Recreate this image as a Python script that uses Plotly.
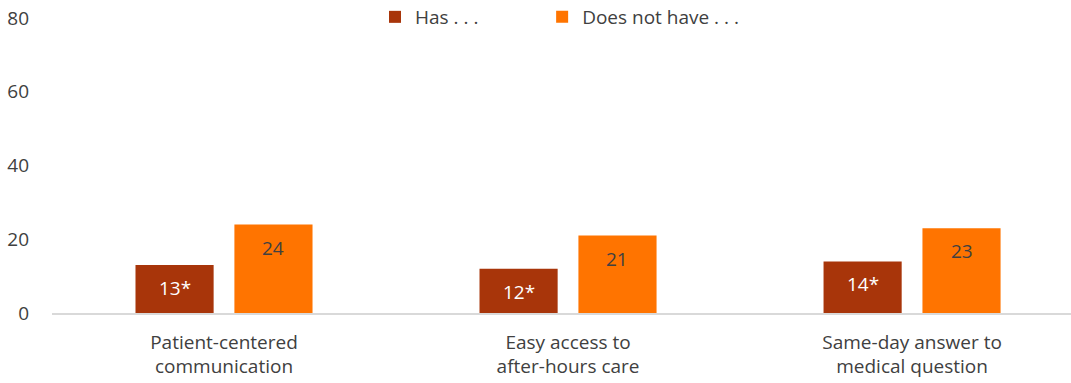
import plotly.graph_objects as go

categories = ["Patient-centered<br>communication", "Easy access to<br>after-hours care", "Same-day answer to<br>medical question"]
has_values = [13, 12, 14]
has_labels = ["13*", "12*", "14*"]
not_values = [24, 21, 23]
not_labels = ["24", "21", "23"]
y_ticks = [0, 20, 40, 60, 80]

FONT = "Open Sans"
TXT = "#404040"
C_HAS = "#A8350A"
C_NOT = "#FF7400"

fig = go.Figure()
fig.add_trace(go.Bar(name="Has . . .", x=categories, y=has_values, marker_color=C_HAS,
                     marker_line_width=0, legend="legend"))
fig.add_trace(go.Bar(name="Does not have . . .", x=categories, y=not_values, marker_color=C_NOT,
                     marker_line_width=0, legend="legend2"))

slot = 0.2875
for i, (v, t) in enumerate(zip(has_values, has_labels)):
    fig.add_annotation(x=i - slot / 2, y=v, xref="x", yref="y", text=t, showarrow=False,
                       yanchor="top", yshift=-8, font=dict(family=FONT, size=19, color="white"))
for i, (v, t) in enumerate(zip(not_values, not_labels)):
    fig.add_annotation(x=i + slot / 2, y=v, xref="x", yref="y", text=t, showarrow=False,
                       yanchor="top", yshift=-8, font=dict(family=FONT, size=19, color=TXT))

legend_common = dict(orientation="h", y=1 - 17 / 383, xanchor="left", yanchor="middle",
                     xref="paper", yref="container",
                     font=dict(family=FONT, size=19, color=TXT), bgcolor="rgba(0,0,0,0)",
                     itemwidth=30)

fig.update_layout(
    width=1071, height=383,
    margin=dict(l=52, r=0, t=18, b=70, autoexpand=False),
    barmode="group", bargap=0.425, bargroupgap=0.21,
    plot_bgcolor="white", paper_bgcolor="white",
    font=dict(family=FONT, size=19, color=TXT),
    showlegend=True,
    legend=dict(x=0.317, **legend_common),
    legend2=dict(x=0.481, **legend_common),
    xaxis=dict(range=[-0.5, 2.462], showline=True, linecolor="#D9D9D9", linewidth=1.5,
               ticks="", ticklabelstandoff=11, tickfont=dict(family=FONT, size=19, color=TXT),
               showgrid=False, fixedrange=True, automargin=False, ticklabeloverflow="allow"),
    yaxis=dict(range=[0, 80], tickvals=y_ticks, showgrid=False, zeroline=False, showline=False,
               ticks="", ticklabelstandoff=22, tickfont=dict(family=FONT, size=19, color=TXT),
               fixedrange=True, automargin=False, ticklabeloverflow="allow"),
)

fig.write_html("out.html", config={"displayModeBar": False},
               post_script="document.body.style.margin='0';document.body.style.overflow='hidden';")
